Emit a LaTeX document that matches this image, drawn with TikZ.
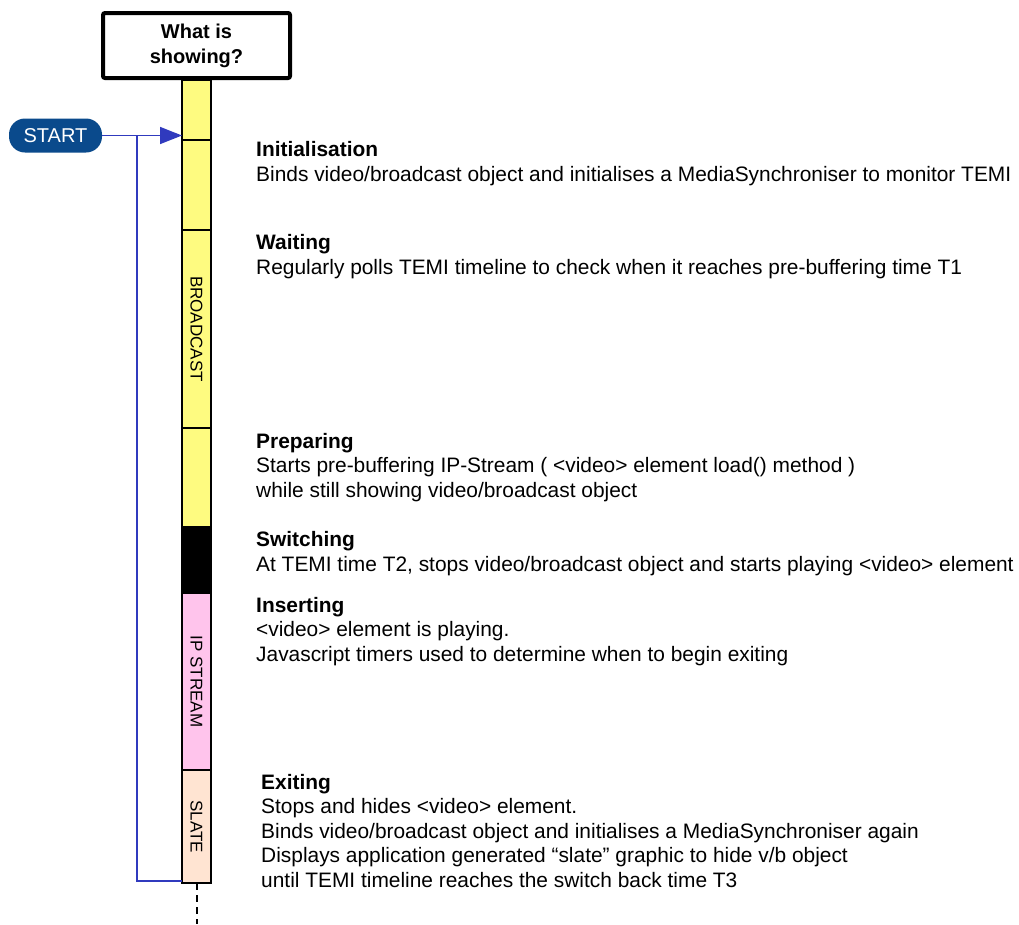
\documentclass[tikz,border=0pt]{standalone}
\usepackage{fontspec}
\setmainfont{Liberation Sans}
\usetikzlibrary{arrows.meta}
\definecolor{flowblue}{RGB}{48,58,190}
\definecolor{startblue}{RGB}{10,74,140}
\definecolor{segyellow}{RGB}{254,251,128}
\definecolor{segpink}{RGB}{255,196,236}
\definecolor{segpeach}{RGB}{255,228,210}
\tikzset{
  seg/.style={draw=black, line width=1.5pt, minimum width=29pt, inner sep=0pt, outer sep=0pt},
  desc/.style={anchor=base west, align=left, inner sep=0pt, font=\fontsize{20.9}{24.5}\selectfont},
  vlabel/.style={rotate=-90, inner sep=0pt, font=\fontsize{17}{19}\selectfont},
  flow/.style={draw=flowblue, line width=1.5pt},
}
\begin{document}
\begin{tikzpicture}[x=1pt,y=-1pt]
\useasboundingbox[fill=white] (0,0) rectangle (1019,924);
% title
\node[draw=black, line width=4pt, rounded corners=2pt, minimum width=187pt, minimum height=65pt,
      align=center, font=\fontsize{20}{25}\selectfont\bfseries] (title) at (196.5,45.5) {What is\\showing?};
% bar segments
\node[seg, fill=segyellow, minimum height=60pt] (s1) at (196.5,110) {};
\node[seg, fill=segyellow, minimum height=90pt] (s2) at (196.5,185) {};
\node[seg, fill=segyellow, minimum height=198pt] (s3) at (196.5,329) {};
\node[seg, fill=segyellow, minimum height=99pt] (s4) at (196.5,477.5) {};
\node[seg, fill=black, minimum height=66pt] (s5) at (196.5,560) {};
\node[seg, fill=segpink, minimum height=177pt] (s6) at (196.5,681.5) {};
\node[seg, fill=segpeach, minimum height=113pt] (s7) at (196.5,826.5) {};
\node[vlabel] (l3) at (s3.center) {BROADCAST};
\node[vlabel] (l6) at (s6.center) {IP STREAM};
\node[vlabel] (l7) at (s7.center) {SLATE};
% start
\node[fill=startblue, text=white, rounded corners=16pt, minimum width=93pt, minimum height=34pt,
      inner sep=0pt, font=\fontsize{20}{22}\selectfont] (start) at (55.5,135.5) {START};
\coordinate (j) at (137,135.5);
\coordinate (end) at (196.5,924);
\draw[flow, -{Triangle[length=22pt,width=17pt]}] (start.east) -- (s1.west |- start.east);
\draw[flow] (j) |- ([yshift=2pt]s7.south west);
\draw[black, line width=2pt, dash pattern=on 7pt off 5pt] (s7.south) -- (end);
% descriptions (anchored at the baseline of the last line)
\node[desc] (t1) at (256,181) {\textbf{Initialisation}\\Binds video/broadcast object and initialises a MediaSynchroniser to monitor TEMI};
\node[desc] (t2) at (256,274) {\textbf{Waiting}\\Regularly polls TEMI timeline to check when it reaches pre-buffering time T1};
\node[desc] (t3) at (256,497) {\textbf{Preparing}\\Starts pre-buffering IP-Stream ( <video> element load() method )\\while still showing video/broadcast object};
\node[desc] (t4) at (256,571) {\textbf{Switching}\\At TEMI time T2, stops video/broadcast object and starts playing <video> element};
\node[desc] (t5) at (256,661) {\textbf{Inserting}\\<video> element is playing.\\Javascript timers used to determine when to begin exiting};
\node[desc] (t6) at (261,887) {\textbf{Exiting}\\Stops and hides <video> element.\\Binds video/broadcast object and initialises a MediaSynchroniser again\\Displays application generated “slate” graphic to hide v/b object\\until TEMI timeline reaches the switch back time T3};
\end{tikzpicture}
\end{document}
